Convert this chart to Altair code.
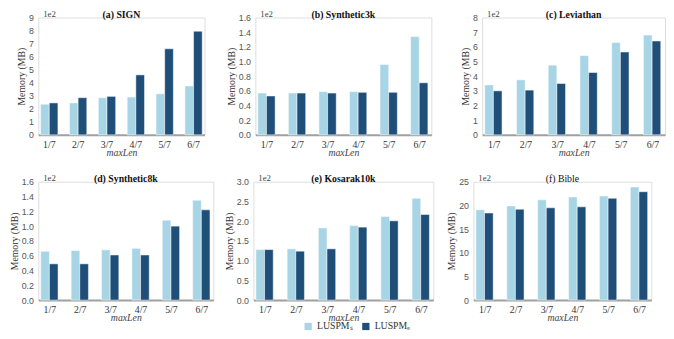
import altair as alt
import pandas as pd

cats = ["1/7", "2/7", "3/7", "4/7", "5/7", "6/7"]
series_names = ["LUSPMₛ", "LUSPMₑ"]

sign_s = [2.35, 2.45, 2.85, 2.9, 3.15, 3.75]
sign_e = [2.45, 2.85, 2.95, 4.6, 6.6, 7.95]
syn3k_s = [0.57, 0.57, 0.59, 0.59, 0.96, 1.34]
syn3k_e = [0.53, 0.57, 0.57, 0.58, 0.58, 0.71]
lev_s = [3.4, 3.75, 4.75, 5.4, 6.3, 6.8]
lev_e = [3.0, 3.05, 3.5, 4.25, 5.65, 6.4]
syn8k_s = [0.66, 0.67, 0.68, 0.70, 1.08, 1.35]
syn8k_e = [0.49, 0.49, 0.61, 0.61, 1.00, 1.22]
kos_s = [1.28, 1.30, 1.83, 1.89, 2.12, 2.58]
kos_e = [1.28, 1.24, 1.30, 1.85, 2.01, 2.17]
bible_s = [19.1, 19.9, 21.2, 21.8, 22.0, 23.9]
bible_e = [18.4, 19.2, 19.5, 19.7, 21.5, 22.9]

LIGHT = "#a8d5e6"
DARK = "#1f4e79"
SERIF = "Liberation Serif, 'Times New Roman', serif"
SANS = "Liberation Sans, Arial, sans-serif"


def panel(title, s_vals, e_vals, ymax, step, fmt, w, h, bold=True, legend=False):
    rows = []
    for c, s, e in zip(cats, s_vals, e_vals):
        rows.append({"len": c, "series": series_names[0], "v": s})
        rows.append({"len": c, "series": series_names[1], "v": e})
    df = pd.DataFrame(rows)
    ticks = []
    t = 0.0
    while t <= ymax + 1e-9:
        ticks.append(round(t, 4))
        t += step
    leg = None
    if legend:
        leg = alt.Legend(title=None, orient="none", legendX=51, legendY=h + 22,
                         direction="horizontal",
                         symbolType="square", symbolSize=55, symbolStrokeWidth=0,
                         labelFont=SERIF, labelFontSize=10, labelColor="#333",
                         columnPadding=8, padding=0)
    bars = alt.Chart(df).mark_bar(stroke="white", strokeWidth=0.5).encode(
        x=alt.X("len:N", sort=cats, title="maxLen",
                scale=alt.Scale(paddingInner=0.4, paddingOuter=0.08),
                axis=alt.Axis(labelAngle=0, labelFont=SERIF, labelFontSize=10,
                              labelColor="#333", ticks=False, labelPadding=5,
                              domainColor="#a0a0a0", domainWidth=2,
                              titleFont=SERIF, titleFontStyle="italic",
                              titleFontWeight="normal", titleFontSize=10,
                              titleColor="#444", titlePadding=-2)),
        xOffset=alt.XOffset("series:N", sort=series_names),
        y=alt.Y("v:Q", title="Memory (MB)",
                scale=alt.Scale(domain=[0, ymax], nice=False, zero=True),
                axis=alt.Axis(values=ticks, format=fmt, ticks=False, domain=False,
                              grid=False, labelFont=SANS, labelFontSize=9,
                              labelColor="#555", labelPadding=5,
                              titleFont=SERIF, titleFontSize=10,
                              titleFontWeight="normal", titleColor="#333",
                              titlePadding=2)),
        color=alt.Color("series:N", sort=series_names,
                        scale=alt.Scale(domain=series_names, range=[LIGHT, DARK]),
                        legend=leg),
    )
    offset_txt = alt.Chart(pd.DataFrame({"t": ["1e2"]})).mark_text(
        font=SERIF, fontSize=9, color="#444", align="left", baseline="bottom"
    ).encode(text="t:N", x=alt.value(5), y=alt.value(1))
    return alt.layer(bars, offset_txt).properties(
        width=w, height=h,
        title=alt.TitleParams(title, font=SERIF, fontSize=10,
                              fontWeight="bold" if bold else "normal",
                              color="#111", offset=-10),
    )


row1 = alt.hconcat(
    panel("(a) SIGN", sign_s, sign_e, 9, 1, "d", 170, 120),
    panel("(b) Synthetic3k", syn3k_s, syn3k_e, 1.6, 0.2, ".1f", 180, 120),
    panel("(c) Leviathan", lev_s, lev_e, 8, 1, "d", 187, 120),
    spacing=52, bounds="flush",
).resolve_scale(color="independent")

row2 = alt.hconcat(
    panel("(d) Synthetic8k", syn8k_s, syn8k_e, 1.6, 0.2, ".1f", 179, 121),
    panel("(e) Kosarak10k", kos_s, kos_e, 3.0, 0.5, ".1f", 184, 121, legend=True),
    panel("(f) Bible", bible_s, bible_e, 25, 5, "d", 182, 121, bold=False),
    spacing=41, bounds="flush",
).resolve_scale(color="independent")

chart = alt.vconcat(row1, row2, spacing=15).resolve_scale(
    color="independent"
).properties(
    padding={"left": 0, "top": -3, "right": 0, "bottom": 0}
).configure_view(
    stroke="#8c8c8c", strokeWidth=1
).configure(background="white")

chart.save("out.html", embed_options={"renderer": "svg", "actions": False})
